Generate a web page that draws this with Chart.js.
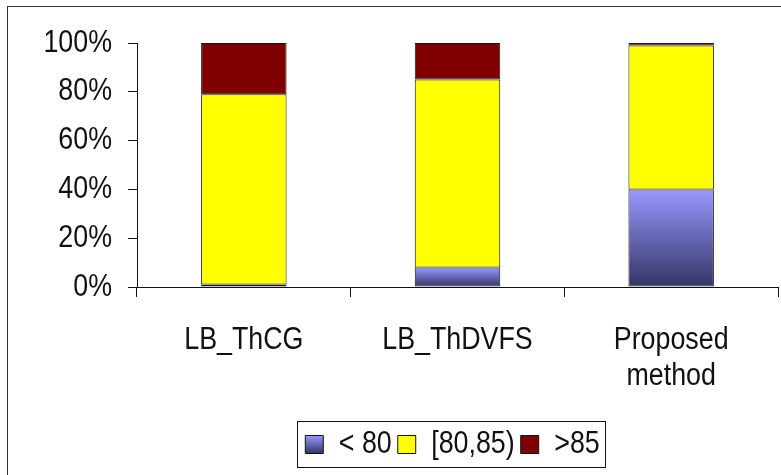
<!DOCTYPE html>
<html>
<head>
<meta charset="utf-8">
<script src="https://cdn.jsdelivr.net/npm/chart.js@4/dist/chart.umd.min.js"></script>
<style>
  html, body { margin: 0; padding: 0; background: #fff; }
  #wrap { width: 781px; height: 475px; position: relative; }
</style>
</head>
<body>
<div id="wrap"><canvas id="c"></canvas></div>
<script>
// Share of samples per temperature band, per method (stacked to 100%)
const categories = ['LB_ThCG', 'LB_ThDVFS', ['Proposed', 'method']];
const seriesNames = ['< 80', '[80,85)', '>85'];
const below80 = [1, 8, 40];
const from80to85 = [78, 77, 59];
const above85 = [21, 15, 1];
const yTickValues = [0, 20, 40, 60, 80, 100];

const FONT = '"Liberation Sans", Arial, sans-serif';
const TEXT = '#111';

// narrow lettering: squeeze every text run horizontally around its anchor
const canvas = document.getElementById('c');
const ctx2d = canvas.getContext('2d');
const SX = 0.865;
const rawFill = ctx2d.fillText;
ctx2d.fillText = function (text, x, y, maxWidth) {
  this.save();
  this.translate(x, y);
  this.scale(SX, 1);
  if (maxWidth === undefined || maxWidth === null) rawFill.call(this, text, 0, 0);
  else rawFill.call(this, text, 0, 0, maxWidth / SX);
  this.restore();
};
const rawMeasure = ctx2d.measureText;
ctx2d.measureText = function (text) {
  const m = rawMeasure.call(this, text);
  return {
    width: m.width * SX,
    actualBoundingBoxLeft: m.actualBoundingBoxLeft * SX,
    actualBoundingBoxRight: m.actualBoundingBoxRight * SX,
    actualBoundingBoxAscent: m.actualBoundingBoxAscent,
    actualBoundingBoxDescent: m.actualBoundingBoxDescent,
    fontBoundingBoxAscent: m.fontBoundingBoxAscent,
    fontBoundingBoxDescent: m.fontBoundingBoxDescent
  };
};

function blueGradient(c, top, bottom) {
  const g = c.createLinearGradient(0, top, 0, bottom);
  g.addColorStop(0, '#9999ff');
  g.addColorStop(1, '#333366');
  return g;
}

// vertical light-to-dark fill for each blue segment, spanning that segment only
function blueFill(ctx) {
  const chart = ctx.chart;
  const y = chart.scales && chart.scales.y;
  if (ctx.type !== 'data' || !y || y.top === undefined) return '#7777cc';
  const top = y.getPixelForValue(ctx.raw);
  const bottom = y.getPixelForValue(0);
  if (!isFinite(top) || !isFinite(bottom) || bottom - top < 1) return '#555599';
  return blueGradient(chart.ctx, top, bottom);
}

const framePlugin = {
  id: 'frame',
  beforeDraw(chart) {
    const c = chart.ctx;
    c.save();
    c.fillStyle = '#fff';
    c.fillRect(0, 0, chart.width, chart.height);
    c.strokeStyle = '#333';
    c.lineWidth = 1;
    c.strokeRect(7.5, 6.5, chart.width + 20, chart.height + 20);
    c.restore();
  }
};

// centre the legend under the plot area instead of the whole canvas
const legendShift = {
  id: 'legendShift',
  afterLayout(chart) {
    const lg = chart.legend;
    const area = chart.chartArea;
    if (!lg || !area) return;
    const target = (area.left + area.right) / 2 - 5;
    const dx = target - (lg.left + lg.right) / 2;
    lg.left += dx;
    lg.right += dx;
  }
};

// thin box around the legend items
const legendBox = {
  id: 'legendBox',
  afterDraw(chart) {
    const lg = chart.legend;
    if (!lg || !lg.legendHitBoxes || !lg.legendHitBoxes.length) return;
    const hb = lg.legendHitBoxes;
    const first = hb[0], last = hb[hb.length - 1];
    const x0 = Math.round(first.left - 8) + 0.5;
    const x1 = Math.round(last.left + last.width + 5) + 0.5;
    const y0 = Math.round(first.top - 8) + 0.5;
    const y1 = Math.round(first.top + first.height + 7) + 0.5;
    const c = chart.ctx;
    c.save();
    c.strokeStyle = '#111';
    c.lineWidth = 1;
    c.strokeRect(x0, y0, x1 - x0, y1 - y0);
    c.restore();
  }
};

const common = {
  borderColor: '#1a1a1a',
  borderWidth: 1,
  borderSkipped: false,
  barPercentage: 0.4,
  categoryPercentage: 1.0
};

new Chart(canvas, {
  type: 'bar',
  data: {
    labels: categories,
    datasets: [
      Object.assign({ label: seriesNames[0], data: below80, backgroundColor: blueFill }, common),
      Object.assign({ label: seriesNames[1], data: from80to85, backgroundColor: '#ffff00' }, common),
      Object.assign({ label: seriesNames[2], data: above85, backgroundColor: '#800000' }, common)
    ]
  },
  options: {
    responsive: true,
    maintainAspectRatio: false,
    animation: false,
    devicePixelRatio: 1,
    layout: { padding: { top: 43, right: 3, bottom: 5, left: 0 } },
    plugins: {
      title: { display: false },
      tooltip: { enabled: false },
      legend: {
        position: 'bottom',
        labels: {
          color: TEXT,
          font: { family: FONT, size: 31 },
          boxWidth: 18,
          boxHeight: 18,
          padding: 6,
          generateLabels(chart) {
            const items = Chart.defaults.plugins.legend.labels.generateLabels(chart);
            const lg = chart.legend;
            items.forEach((it, i) => {
              it.strokeStyle = '#111';
              it.lineWidth = 1;
              if (i === 0) {
                if (lg && lg.top !== undefined && isFinite(lg.top)) {
                  const top = lg.top + 6 + (31 - 18) / 2;
                  it.fillStyle = blueGradient(chart.ctx, top, top + 18);
                } else {
                  it.fillStyle = '#6666bb';
                }
              }
            });
            return items;
          }
        }
      }
    },
    scales: {
      x: {
        stacked: true,
        grid: {
          display: true,
          offset: true,
          drawOnChartArea: false,
          drawTicks: true,
          tickLength: 10,
          color: '#111',
          lineWidth: 1
        },
        border: { display: true, color: '#111', width: 1 },
        ticks: {
          color: TEXT,
          font: { family: FONT, size: 31, lineHeight: 1.15 },
          padding: 26,
          maxRotation: 0,
          autoSkip: false
        },
        afterFit(s) { s.height = 136; }
      },
      y: {
        stacked: true,
        min: 0,
        max: 100,
        grid: {
          display: true,
          drawOnChartArea: false,
          drawTicks: true,
          tickLength: 9,
          color: '#111',
          lineWidth: 1
        },
        border: { display: true, color: '#111', width: 1 },
        afterBuildTicks(s) { s.ticks = yTickValues.map(v => ({ value: v })); },
        ticks: {
          color: TEXT,
          font: { family: FONT, size: 31 },
          padding: 16,
          callback: v => v + '%'
        },
        afterFit(s) { s.width = 137; }
      }
    }
  },
  plugins: [framePlugin, legendShift, legendBox]
});
</script>
</body>
</html>
